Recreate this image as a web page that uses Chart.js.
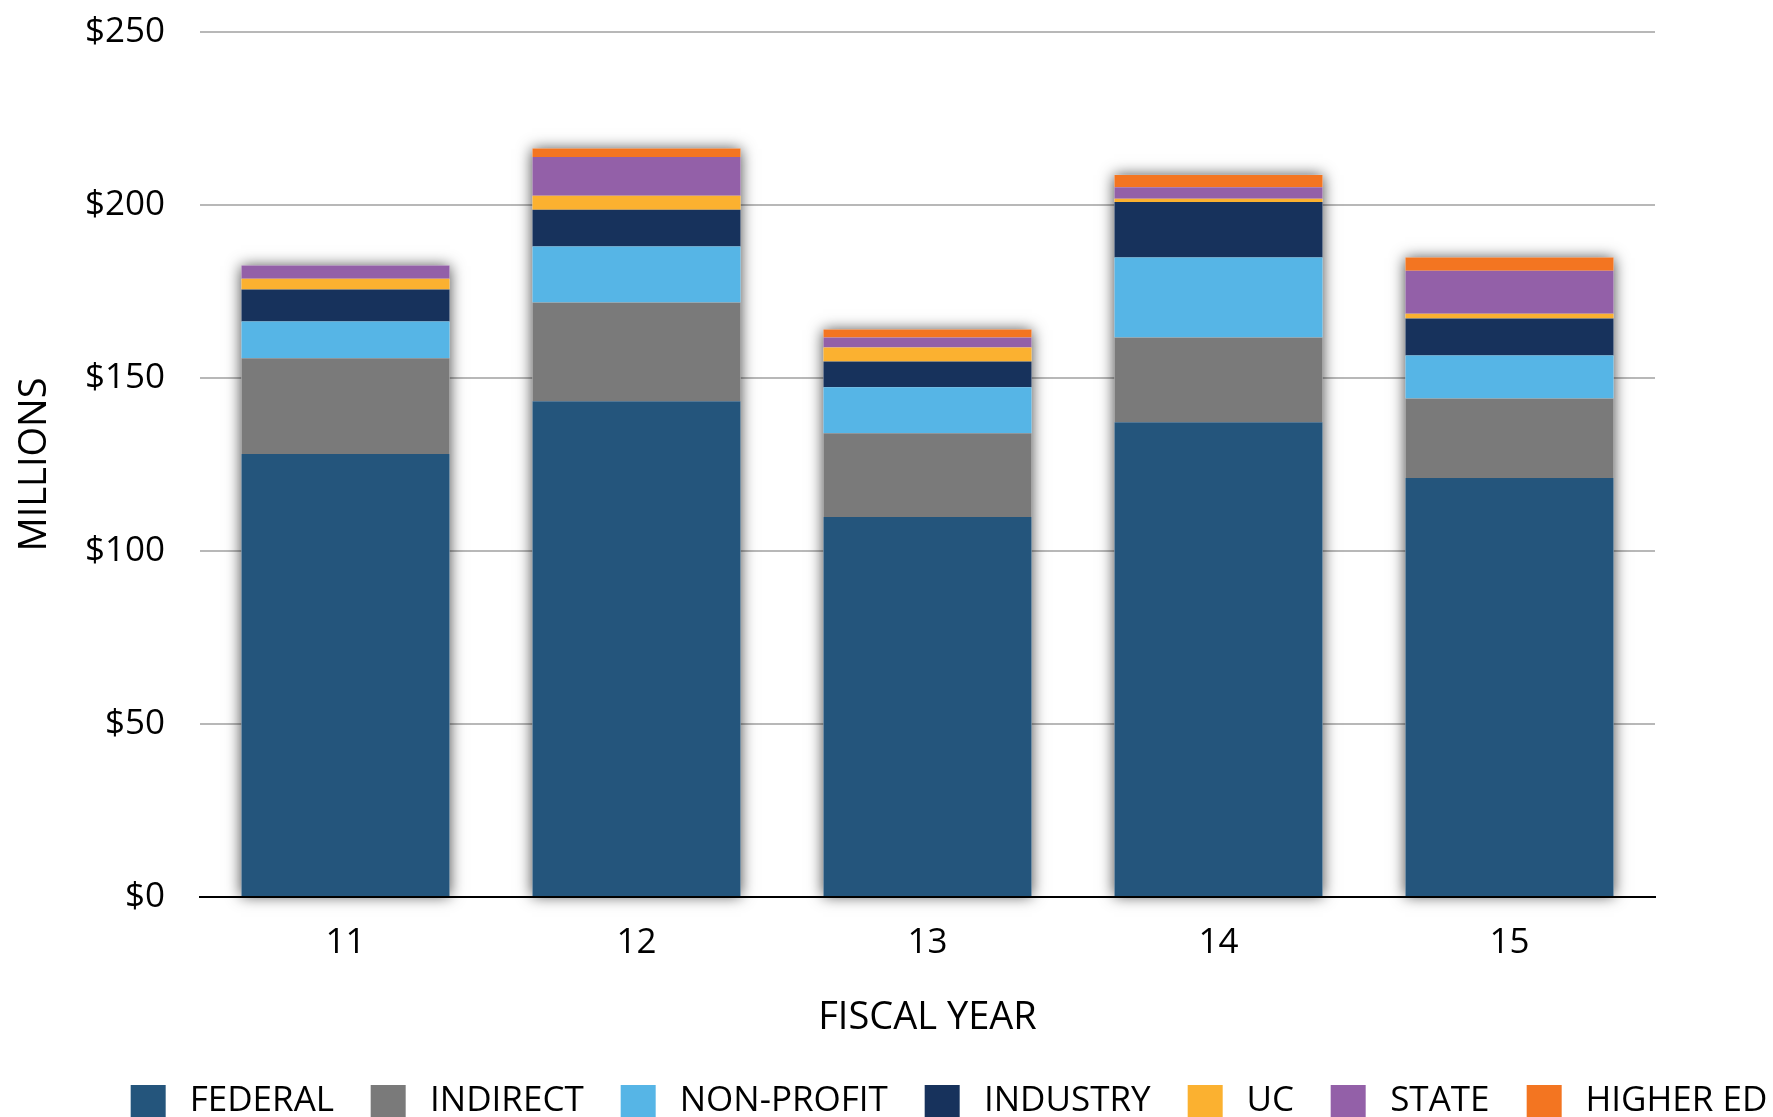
<!DOCTYPE html>
<html>
<head>
<meta charset="utf-8">
<script src="https://cdn.jsdelivr.net/npm/chart.js@4"></script>
<style>
  html, body { margin: 0; padding: 0; background: #fff; overflow: hidden; }
  #wrap { position: relative; width: 1773px; height: 1117px; overflow: hidden; }
  #c { position: absolute; left: 0; top: 0; }
  #legend { position: absolute; top: 1080px; left: 949px; transform: translateX(-50%); display: flex; white-space: nowrap; font-family: "Open Sans", sans-serif; font-size: 35px; line-height: 35px; color: #000; }
  .item { display: flex; align-items: flex-start; margin-right: 37px; }
  .item:last-child { margin-right: 0; }
  .box { width: 35px; height: 35px; margin-top: 5px; margin-right: 24px; }
</style>
</head>
<body>
<div id="wrap">
  <canvas id="c" width="1773" height="1117"></canvas>
  <div id="legend"></div>
</div>
<script>
const categories = ['11', '12', '13', '14', '15'];
const seriesNames = ['FEDERAL', 'INDIRECT', 'NON-PROFIT', 'INDUSTRY', 'UC', 'STATE', 'HIGHER ED'];
const federal   = [128.0, 143.3, 109.8, 137.2, 121.1];
const indirect  = [27.7, 28.5, 24.2, 24.5, 23.0];
const nonProfit = [10.6, 16.2, 13.3, 23.1, 12.4];
const industry  = [9.3, 10.6, 7.5, 16.1, 10.7];
const uc        = [3.1, 4.1, 4.0, 0.9, 1.4];
const state     = [3.8, 11.2, 2.9, 3.3, 12.4];
const higherEd  = [0, 2.4, 2.3, 3.6, 3.8];
const yTickValues = [0, 50, 100, 150, 200, 250];
const colors = ['#24557c', '#7a7a7a', '#56b5e6', '#17325c', '#fbb130', '#9360a8', '#f37521'];

const seriesValues = [federal, indirect, nonProfit, industry, uc, state, higherEd];

const shadowPlugin = {
  id: 'barShadow',
  beforeDatasetsDraw(chart) {
    const ctx = chart.ctx;
    const metas = chart.data.datasets.map((d, i) => chart.getDatasetMeta(i));
    ctx.save();
    ctx.shadowColor = 'rgba(0,0,0,0.7)';
    ctx.shadowBlur = 14;
    ctx.fillStyle = '#ffffff';
    categories.forEach((c, j) => {
      const base = metas[0].data[j];
      let top = base.y;
      metas.forEach(m => { if (m.data[j].y < top) top = m.data[j].y; });
      const w = base.width;
      ctx.fillRect(base.x - w / 2, top, w, base.base - top);
    });
    ctx.restore();
  }
};

const font = '"Open Sans", sans-serif';

new Chart(document.getElementById('c'), {
  type: 'bar',
  data: {
    labels: categories,
    datasets: seriesNames.map((n, i) => ({
      label: n,
      data: seriesValues[i],
      backgroundColor: colors[i],
      borderWidth: 0,
      barPercentage: 0.715,
      categoryPercentage: 1.0
    }))
  },
  options: {
    responsive: false,
    animation: false,
    devicePixelRatio: 1,
    layout: { padding: { left: 0, right: 118, top: 32, bottom: 76 } },
    plugins: {
      legend: { display: false },
      tooltip: { enabled: false }
    },
    scales: {
      x: {
        stacked: true,
        grid: { display: false, drawTicks: false },
        border: { display: true, color: '#000', width: 2 },
        ticks: { color: '#000', font: { family: font, size: 35 }, padding: 25 },
        title: { display: true, text: 'FISCAL YEAR', color: '#000', font: { family: font, size: 38 }, padding: { top: 0, bottom: 0 } },
        afterFit(scale) { scale.height = 144; }
      },
      y: {
        stacked: true,
        min: 0,
        max: 250,
        afterBuildTicks(scale) { scale.ticks = yTickValues.map(v => ({ value: v })); },
        grid: { color: '#b8b8b8', lineWidth: 2, drawTicks: false },
        border: { display: false },
        ticks: { color: '#000', font: { family: font, size: 35 }, padding: 35, callback: v => '$' + v },
        title: { display: true, text: 'MILLIONS', color: '#000', font: { family: font, size: 38 }, padding: { top: 12, bottom: 0 } },
        afterFit(scale) { scale.width = 200; scale.paddingTop = 0; scale.paddingBottom = 0; }
      }
    }
  },
  plugins: [shadowPlugin]
});

const legend = document.getElementById('legend');
seriesNames.forEach((n, i) => {
  const item = document.createElement('div');
  item.className = 'item';
  const box = document.createElement('div');
  box.className = 'box';
  box.style.background = colors[i];
  const t = document.createElement('span');
  t.textContent = n;
  item.appendChild(box);
  item.appendChild(t);
  legend.appendChild(item);
});
</script>
</body>
</html>
